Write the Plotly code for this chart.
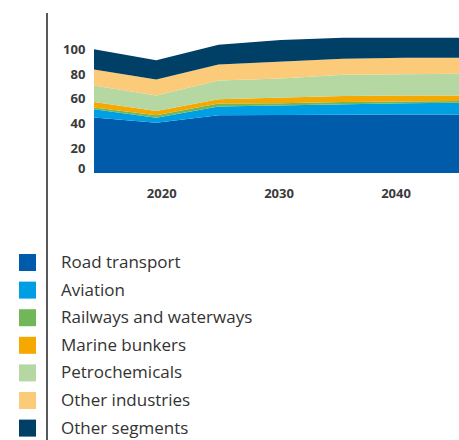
import plotly.graph_objects as go

# Oil demand by sector, stacked (million barrels per day equivalent index)
years = [2015, 2020, 2025, 2030, 2035, 2040, 2045]
road_transport = [44.8, 40.6, 46.7, 47.0, 47.6, 47.3, 47.2]
aviation = [6.7, 4.1, 7.1, 7.6, 8.3, 9.2, 9.6]
railways_waterways = [1.5, 2.1, 2.4, 1.9, 1.6, 1.6, 1.6]
marine_bunkers = [4.4, 3.3, 3.5, 4.6, 4.7, 4.6, 4.4]
petrochemicals = [13.4, 12.6, 15.2, 15.4, 17.2, 17.5, 17.5]
other_industries = [13.0, 13.0, 12.9, 13.5, 13.0, 13.0, 13.0]
other_segments = [16.2, 15.5, 16.0, 17.5, 17.0, 16.5, 16.1]

series_names = ["Road transport", "Aviation", "Railways and waterways",
                "Marine bunkers", "Petrochemicals", "Other industries",
                "Other segments"]
series_values = [road_transport, aviation, railways_waterways, marine_bunkers,
                 petrochemicals, other_industries, other_segments]
series_colors = ["#005BAA", "#009FE3", "#72B65A", "#F5A800",
                 "#B5D8A2", "#FBCB79", "#003F66"]

y_tick_labels = ["0", "20", "40", "60", "80", "100"]
x_tick_labels = ["2020", "2030", "2040"]

W, H = 459, 440
L, R, T, B = 94, 0, 37, 267
PW, PH = W - L - R, H - T - B


def px_x(p):
    return (p - L) / PW


def px_y(p):
    return (H - B - p) / PH


fig = go.Figure()
for name, vals, col in zip(series_names, series_values, series_colors):
    fig.add_trace(go.Scatter(
        x=years, y=vals, name=name, mode="lines",
        stackgroup="demand", line=dict(width=0, color=col),
        fillcolor=col, showlegend=False, hoverinfo="x+y+name",
    ))

tick_font = dict(family="Open Sans, sans-serif", size=13, color="#3a3a3a",
                 weight=700)

fig.update_layout(
    width=W, height=H,
    margin=dict(l=L, r=R, t=T, b=B, pad=0),
    paper_bgcolor="white", plot_bgcolor="white",
    xaxis=dict(
        range=[2015, 2015 + PW / 12.45],
        tickvals=[2020.44, 2029.86, 2039.26], ticktext=x_tick_labels,
        showgrid=False, zeroline=False, showline=False,
        ticks="outside", ticklen=8, tickcolor="rgba(0,0,0,0)",
        tickfont=tick_font, fixedrange=True,
    ),
    yaxis=dict(
        range=[0, 110],
        tickvals=[4, 20, 40, 60, 80, 100], ticktext=y_tick_labels,
        showgrid=False, zeroline=False, showline=False,
        ticks="outside", ticklen=5, tickcolor="rgba(0,0,0,0)",
        tickfont=tick_font, fixedrange=True,
    ),
    showlegend=False,
)

# Divider line on the left
fig.add_shape(type="line", xref="paper", yref="paper",
              x0=px_x(47), x1=px_x(47), y0=px_y(13), y1=px_y(440),
              line=dict(color="#222222", width=1.5))

# Legend drawn as colour squares with labels
for i, (name, col) in enumerate(zip(series_names, series_colors)):
    cy = 262.5 + i * 27.6
    fig.add_shape(type="rect", xref="paper", yref="paper",
                  x0=px_x(19), x1=px_x(36), y0=px_y(cy - 8.5), y1=px_y(cy + 8.5),
                  fillcolor=col, line=dict(width=0))
    fig.add_annotation(text=name, xref="paper", yref="paper",
                       x=px_x(59), y=px_y(cy - 1), xanchor="left", yanchor="middle",
                       showarrow=False,
                       font=dict(family="Open Sans, sans-serif", size=17,
                                 color="#333333"))

fig.write_html("out.html")
